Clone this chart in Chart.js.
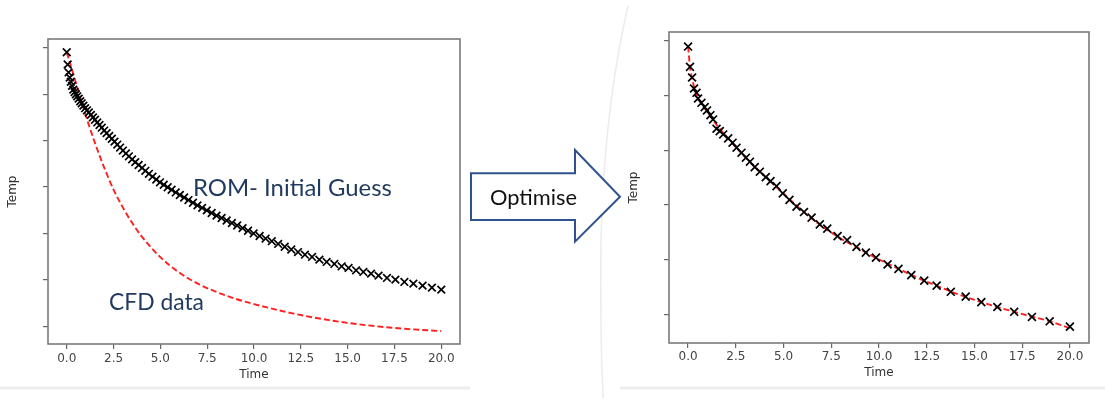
<!DOCTYPE html>
<html>
<head>
<meta charset="utf-8">
<script src="https://cdn.jsdelivr.net/npm/chart.js@4.4.0/dist/chart.umd.min.js"></script>
<style>
  html, body { margin: 0; padding: 0; background: #fff; }
  body { width: 1105px; height: 400px; position: relative; overflow: hidden; }
  canvas { position: absolute; top: 0; }
  #leftChart { left: 0; }
  #rightChart { left: 600px; }
  svg { position: absolute; left: 0; top: 0; }
  .note { position: absolute; white-space: nowrap; line-height: 1; font-family: Lato, "Open Sans", sans-serif; }
  .blue { color: #1f3a5e; }
</style>
</head>
<body>
<svg width="1105" height="400">
  <path d="M628,6 Q604,110 601,240 Q600,330 603,398" fill="none" stroke="#ececec" stroke-width="1.5"/>
  <line x1="0" y1="388" x2="470" y2="388" stroke="#eeeeee" stroke-width="3"/>
  <line x1="620" y1="388" x2="1105" y2="388" stroke="#eeeeee" stroke-width="3"/>
</svg>
<canvas id="leftChart" width="470" height="400"></canvas>
<canvas id="rightChart" width="505" height="400"></canvas>
<svg width="1105" height="400">
  <path d="M471,173.3 L575,173.3 L575,150 L620,196.7 L575,241.7 L575,220 L471,220 Z" fill="#fff" stroke="#2f528f" stroke-width="2"/>
</svg>
<div class="note blue" id="romNote">ROM- Initial Guess</div>
<div class="note blue" id="cfdNote">CFD data</div>
<div class="note" id="optNote" style="color:#111">Optimise</div>
<script>
// shared axis ticks
const xTicks = [0, 2.5, 5, 7.5, 10, 12.5, 15, 17.5, 20];
const leftYTicks = [10, 20, 30, 40, 50, 60, 70];
const rightYTicks = [10, 20, 30, 40, 50, 60];

// left chart: ROM initial guess (markers)
const leftRomTime = [0, 0.05, 0.1, 0.16, 0.22, 0.28, 0.35, 0.42, 0.49, 0.56, 0.64, 0.72, 0.8, 0.89, 0.98,
  1.08, 1.18, 1.29, 1.4, 1.51, 1.63, 1.75, 1.87, 2.0, 2.13, 2.27, 2.41, 2.55, 2.7, 2.85, 3.0,
  3.16, 3.32, 3.49, 3.66, 3.84, 4.02, 4.2, 4.39, 4.58, 4.78, 4.98, 5.18, 5.39, 5.6, 5.82, 6.04,
  6.27, 6.5, 6.74, 6.98, 7.23, 7.48, 7.74, 8.0, 8.27, 8.54, 8.82, 9.1, 9.39, 9.68, 9.98,
  10.3, 10.62, 10.95, 11.29, 11.64, 11.99, 12.35, 12.72,
  13.1, 13.49, 13.88, 14.29, 14.68, 15.05, 15.45, 15.84, 16.25, 16.65, 17.1, 17.55, 18.03, 18.51, 19.0, 19.5, 20.0];
const leftRomTemp = [69.05, 66.4, 64.7, 63.6, 62.7, 61.8, 61.0, 60.45, 60.0, 59.55, 59.05, 58.5, 58.05, 57.55, 57.0,
  56.54, 56.07, 55.55, 55.02, 54.5, 53.93, 53.37, 52.8, 52.18, 51.62, 51.01, 50.41, 49.8, 49.16, 48.51, 47.87,
  47.25, 46.63, 45.97, 45.38, 44.75, 44.13, 43.51, 42.86, 42.24, 41.63, 41.03, 40.5, 39.96, 39.42, 38.85, 38.29,
  37.75, 37.2, 36.63, 36.06, 35.52, 34.98, 34.42, 33.86, 33.34, 32.81, 32.27, 31.73, 31.16, 30.6, 30.02,
  29.46, 28.91, 28.35, 27.76, 27.15, 26.55, 26.0, 25.44,
  24.96, 24.38, 23.88, 23.45, 22.93, 22.59, 22.07, 21.72, 21.36, 20.93, 20.43, 20.06, 19.57, 19.2, 18.77, 18.34, 17.91];

// left chart: CFD data (red dashed)
const leftCfdTime = [0, 0.25, 0.5, 0.75, 1, 1.5, 2, 2.5, 3, 3.5, 4, 5, 6, 7, 8, 9, 10, 12, 14, 16, 18, 20];
const leftCfdTemp = [68.99, 65.75, 62.31, 58.86, 55.63, 49.59, 44.2, 39.46, 35.58, 32.25, 29.4, 24.9, 21.6,
  19.2, 17.4, 15.95, 14.8, 12.85, 11.35, 10.25, 9.5, 8.97];

// right chart: optimised ROM (markers)
const rightRomTime = [0, 0.1, 0.21, 0.31, 0.44, 0.52, 0.7, 0.87, 0.99, 1.17, 1.31, 1.49, 1.66, 1.84, 2.1,
  2.33, 2.54, 2.8, 3.03, 3.24, 3.49, 3.76, 4.07, 4.32, 4.63, 4.96, 5.31, 5.68, 6.07, 6.47,
  6.9, 7.29, 7.83, 8.33, 8.82, 9.31, 9.84, 10.45, 11.02, 11.69, 12.37, 13.02, 13.76, 14.54, 15.36,
  16.2, 17.08, 18.01, 18.94, 20];
const rightRomTemp = [58.85, 55.16, 53.22, 51.22, 50.44, 49.4, 48.62, 47.82, 47.22, 46.36, 45.58, 43.89, 43.45, 42.85, 42.13,
  41.35, 40.44, 39.53, 38.62, 37.89, 36.91, 36.07, 35.09, 34.36, 33.45, 32.13, 30.95, 29.71, 28.73, 27.71,
  26.49, 25.71, 24.36, 23.64, 22.4, 21.35, 20.44, 19.22, 18.4, 17.25, 16.25, 15.35, 14.22, 13.35, 12.35,
  11.45, 10.58, 9.64, 8.85, 7.89];

// right chart: CFD data (red dashed)
const rightCfdTime = [0, 0.1, 0.25, 0.5, 1, 1.5, 2, 3, 4, 5, 6, 7, 8, 9, 10, 11, 12, 13, 14, 15, 16, 17, 18, 19, 20];
const rightCfdTemp = [58.85, 55.2, 52.4, 49.6, 47.0, 44.6, 42.5, 38.7, 35.3, 32.1, 28.9, 26.2, 23.9, 22.0, 20.1,
  18.45, 16.8, 15.35, 13.95, 12.75, 11.65, 10.65, 9.7, 8.8, 7.6];

function pts(xs, ys) {
  return xs.map((x, i) => ({ x: x, y: ys[i] }));
}

// matplotlib style box round the plot
const frame = {
  id: 'frame',
  afterDatasetsDraw(chart) {
    const a = chart.chartArea, ctx = chart.ctx;
    ctx.save();
    ctx.strokeStyle = '#7a7a7a';
    ctx.lineWidth = 1.6;
    ctx.strokeRect(a.left, a.top, a.right - a.left, a.bottom - a.top);
    ctx.restore();
  }
};

const axisFont = { family: 'DejaVu Sans', size: 12 };
const gridOpts = { drawOnChartArea: false, drawTicks: true, tickLength: 5, color: '#666', lineWidth: 1.2 };

function makeChart(id, o) {
  return new Chart(document.getElementById(id), {
    type: 'scatter',
    data: {
      datasets: [{
        data: pts(o.romT, o.romV),
        showLine: false,
        pointStyle: 'crossRot',
        pointRadius: o.r,
        pointBorderWidth: 1.7,
        borderColor: '#000',
        backgroundColor: '#000'
      }, {
        data: pts(o.cfdT, o.cfdV),
        showLine: true,
        pointRadius: 0,
        borderColor: '#ff1f1f',
        borderWidth: 1.9,
        borderDash: [6, 3],
        cubicInterpolationMode: 'monotone',
        fill: false
      }]
    },
    options: {
      responsive: false,
      animation: false,
      devicePixelRatio: 1,
      layout: { padding: o.pad },
      plugins: { legend: { display: false }, tooltip: { enabled: false } },
      scales: {
        x: {
          type: 'linear', min: -1, max: 21,
          afterBuildTicks: s => { s.ticks = xTicks.map(v => ({ value: v })); },
          afterFit: s => { s.height = o.xh; },
          grid: gridOpts,
          border: { display: false },
          ticks: { font: axisFont, color: '#444', padding: o.tp, maxRotation: 0, autoSkip: false,
            callback: v => Number(v).toFixed(1) },
          title: { display: true, text: 'Time', font: axisFont, color: '#333', padding: { top: 0, bottom: o.xtp } }
        },
        y: {
          type: 'linear', min: o.ymin, max: o.ymax,
          afterBuildTicks: s => { s.ticks = o.yTicks.map(v => ({ value: v })); },
          afterFit: s => { s.width = o.yw; },
          grid: gridOpts,
          border: { display: false },
          ticks: { display: false },
          title: { display: true, text: 'Temp', font: axisFont, color: '#333', padding: { top: o.ytp, bottom: 0 } }
        }
      }
    },
    plugins: [frame]
  });
}

makeChart('leftChart', {
  romT: leftRomTime, romV: leftRomTemp, cfdT: leftCfdTime, cfdV: leftCfdTemp,
  yTicks: leftYTicks, ymin: 6.2, ymax: 71.9, r: 5.4,
  pad: { left: 0, top: 39, right: 10, bottom: 0 }, xh: 56, yw: 48, tp: 3, xtp: 18, ytp: 6
});

makeChart('rightChart', {
  romT: rightRomTime, romV: rightRomTemp, cfdT: rightCfdTime, cfdV: rightCfdTemp,
  yTicks: rightYTicks, ymin: 4.9, ymax: 61.5, r: 5.6,
  pad: { left: 0, top: 32, right: 16, bottom: 0 }, xh: 57, yw: 69, tp: 2, xtp: 19.5, ytp: 26.5
});

// annotation text, sized to the width it takes in the picture
function placeNote(id, x0, x1, baseline) {
  const el = document.getElementById(id);
  el.style.fontSize = '100px';
  const w = el.getBoundingClientRect().width;
  const size = 100 * (x1 - x0) / w;
  el.style.fontSize = size + 'px';
  el.style.left = x0 + 'px';
  el.style.top = (baseline - 0.887 * size) + 'px';
}
placeNote('romNote', 193, 392, 196);
placeNote('cfdNote', 109, 204, 310);
placeNote('optNote', 490, 577, 205);
</script>
</body>
</html>
